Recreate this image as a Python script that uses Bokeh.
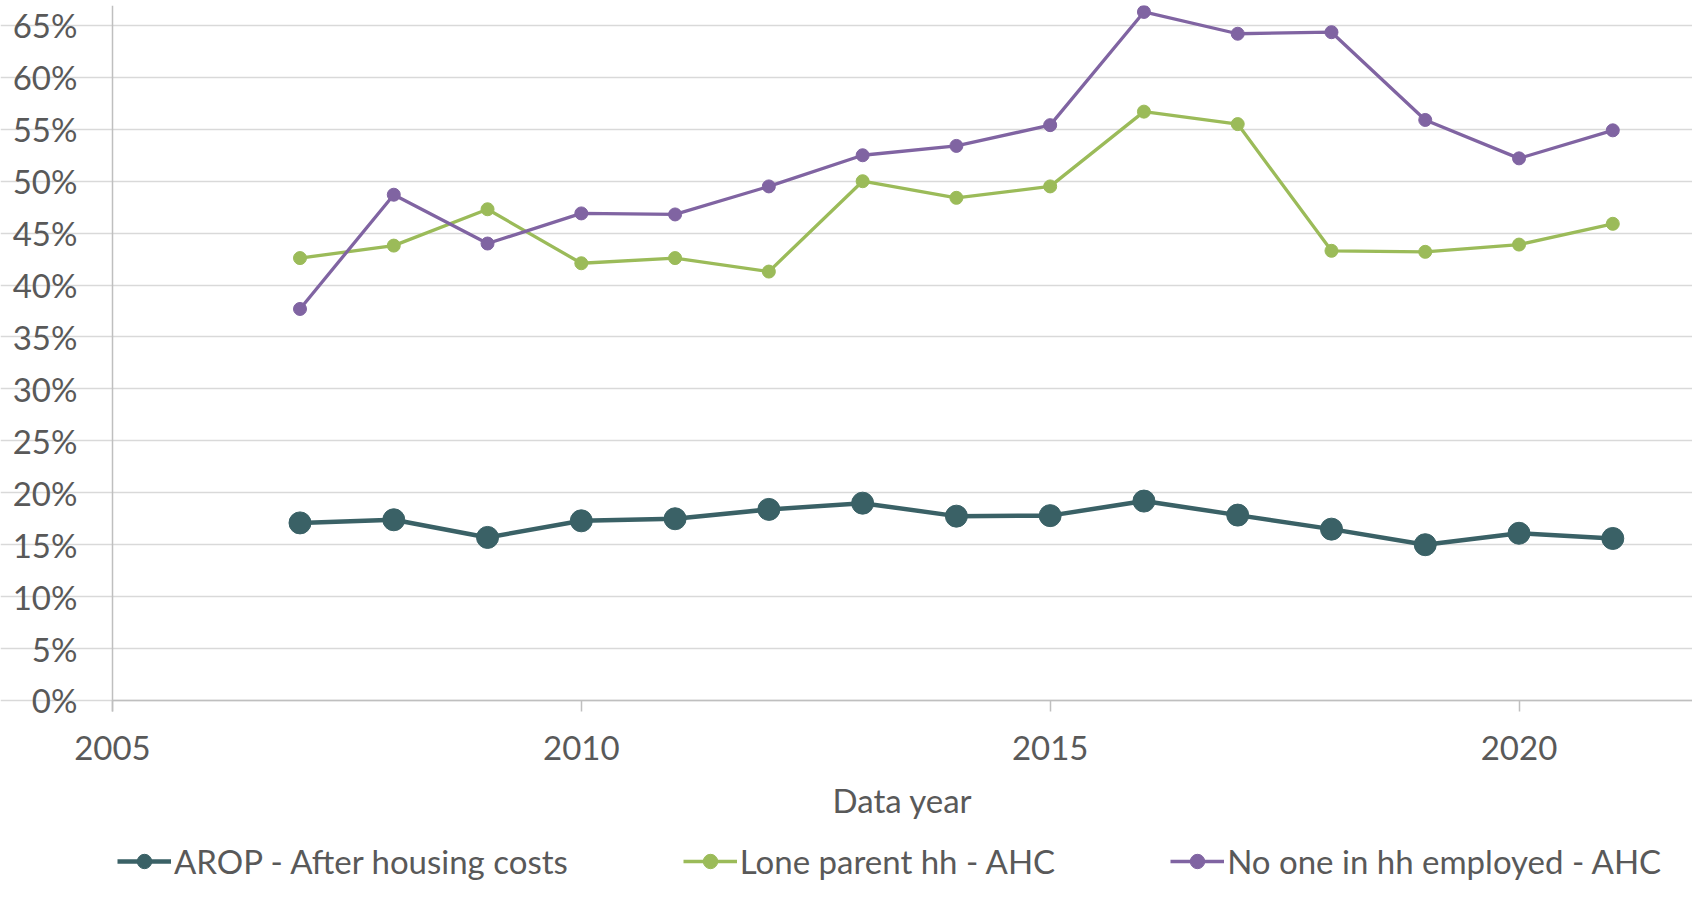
from bokeh.plotting import figure
from bokeh.models import Range1d, FixedTicker, Legend, LegendItem
from bokeh.embed import file_html
from bokeh.resources import INLINE

years = [2007, 2008, 2009, 2010, 2011, 2012, 2013, 2014, 2015, 2016, 2017, 2018, 2019, 2020, 2021]
arop_ahc = [17.1, 17.4, 15.7, 17.3, 17.5, 18.4, 19.0, 17.75, 17.8, 19.2, 17.85, 16.5, 15.0, 16.1, 15.6]
lone_parent_ahc = [42.6, 43.8, 47.3, 42.1, 42.6, 41.3, 50.0, 48.4, 49.5, 56.7, 55.5, 43.3, 43.2, 43.9, 45.9]
no_one_employed_ahc = [37.7, 48.7, 44.0, 46.9, 46.8, 49.5, 52.5, 53.4, 55.4, 66.3, 64.2, 64.35, 55.9, 52.2, 54.9]

series_names = ["AROP - After housing costs", "Lone parent hh - AHC", "No one in hh employed - AHC"]
x_ticks = [2005, 2010, 2015, 2020]
y_ticks = [0, 5, 10, 15, 20, 25, 30, 35, 40, 45, 50, 55, 60, 65]
y_tick_labels = [f"{t}%" for t in y_ticks]

FONT = "Lato"
TXT = "#595959"
FS = "33px"

X0, X1 = 2005, 2021.85
Y_TOP = 66.92

# frame spans the whole figure; axes are pinned at 2005 / 0%
p = figure(width=1692, height=881, output_backend="svg", toolbar_location=None,
           x_range=Range1d(2003.806, X1), y_range=Range1d(-17.43, Y_TOP),
           min_border_left=0, min_border_right=0, min_border_top=5, min_border_bottom=0)
p.outline_line_color = None
p.background_fill_color = "white"
p.border_fill_color = "white"

p.xgrid.grid_line_color = None
p.ygrid.grid_line_color = "#D9D9D9"
p.ygrid.grid_line_width = 1.5
p.ygrid.ticker = FixedTicker(ticks=y_ticks)
p.ygrid.bounds = (X0, X1)

p.xaxis.fixed_location = 0
p.xaxis.bounds = (X0, X1)
p.xaxis.ticker = FixedTicker(ticks=x_ticks)
p.xaxis.axis_line_color = "#BFBFBF"
p.xaxis.axis_line_width = 1.5
p.xaxis.major_tick_line_color = "#BFBFBF"
p.xaxis.major_tick_line_width = 1.5
p.xaxis.major_tick_out = 11
p.xaxis.major_tick_in = 0
p.xaxis.minor_tick_line_color = None
p.xaxis.major_label_text_font = FONT
p.xaxis.major_label_text_font_size = FS
p.xaxis.major_label_text_color = TXT
p.xaxis.major_label_standoff = 25
p.xaxis.axis_label = "Data year"
p.xaxis.axis_label_text_font = FONT
p.xaxis.axis_label_text_font_size = FS
p.xaxis.axis_label_text_color = TXT
p.xaxis.axis_label_text_font_style = "normal"
p.xaxis.axis_label_standoff = 16

p.yaxis.fixed_location = X0
p.yaxis.ticker = FixedTicker(ticks=y_ticks)
p.yaxis.bounds = (-1.06, Y_TOP)
p.yaxis.major_label_overrides = dict(zip(y_ticks, y_tick_labels))
p.yaxis.axis_line_color = "#BFBFBF"
p.yaxis.axis_line_width = 1.5
p.yaxis.major_tick_line_color = None
p.yaxis.minor_tick_line_color = None
p.yaxis.major_tick_out = 0
p.yaxis.major_tick_in = 0
p.yaxis.major_label_text_font = FONT
p.yaxis.major_label_text_font_size = FS
p.yaxis.major_label_text_color = TXT
p.yaxis.major_label_standoff = 35

colors = ["#3A6166", "#9BBB59", "#8064A2"]
widths = [4.5, 3.3, 3.3]
sizes = [22, 13, 13]
data = [arop_ahc, lone_parent_ahc, no_one_employed_ahc]

items = []
for name, vals, c, w, s in zip(series_names, data, colors, widths, sizes):
    l = p.line(years, vals, line_color=c, line_width=w)
    m = p.scatter(years, vals, size=s, fill_color=c, line_color=c)
    items.append(LegendItem(label=name, renderers=[l, m]))

legend = Legend(items=items, orientation="horizontal", location=(117, 0),
                label_text_font=FONT, label_text_font_size=FS, label_text_color=TXT,
                glyph_width=54, glyph_height=36, label_standoff=3, spacing=115,
                padding=0, margin=0, border_line_color=None, background_fill_alpha=0)
p.add_layout(legend, "center")

open("out.html", "w").write(file_html(p, INLINE))
